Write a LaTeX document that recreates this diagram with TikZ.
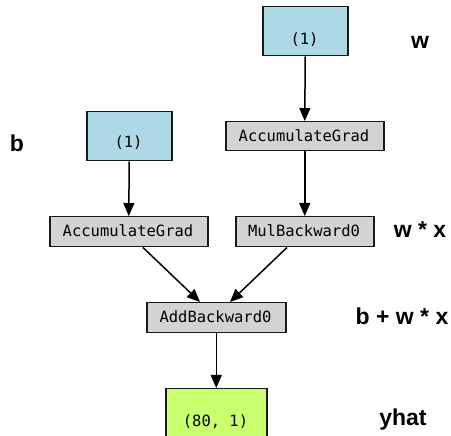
\documentclass[tikz,border=0pt]{standalone}
\usepackage{fontspec}
\setmainfont{Liberation Sans}
\newfontfamily\monofont{DejaVu Sans Mono}
\usetikzlibrary{arrows.meta}
\definecolor{leafblue}{RGB}{173,216,230}
\definecolor{opgray}{RGB}{211,211,211}
\definecolor{outgreen}{RGB}{202,255,112}
\tikzset{
  box/.style={draw=black!90, line width=1.5pt, inner sep=0pt, anchor=north west},
  optext/.style={font=\monofont\fontsize{15.5}{16}\selectfont, inner sep=0pt},
  lab/.style={font=\bfseries\fontsize{23}{24}\selectfont, inner sep=0pt},
  edge/.style={line width=1.5pt, -{Triangle[length=13pt,width=11pt]}}
}
\begin{document}
\begin{tikzpicture}[x=1pt,y=-1pt]
\useasboundingbox (0,0) rectangle (451,436);
% boxes
\node[box, fill=leafblue, minimum width=85pt, minimum height=49pt] (w) at (262,6) {};
\node[optext] at (304.5,40) {(1)};
\node[box, fill=opgray, minimum width=158pt, minimum height=29pt] (accw) at (225,121) {};
\node[optext] at (304,135.5) {AccumulateGrad};
\node[box, fill=leafblue, minimum width=85pt, minimum height=49pt] (b) at (86,111) {};
\node[optext] at (128.5,143) {(1)};
\node[box, fill=opgray, minimum width=158pt, minimum height=30pt] (accb) at (49,216) {};
\node[optext] at (128,231) {AccumulateGrad};
\node[box, fill=opgray, minimum width=138pt, minimum height=30pt] (mul) at (235,216) {};
\node[optext] at (304,231) {MulBackward0};
\node[box, fill=opgray, minimum width=139pt, minimum height=30pt] (add) at (146,302) {};
\node[optext] at (215.5,317) {AddBackward0};
\node[box, fill=outgreen, minimum width=101pt, minimum height=60pt] (yhat) at (165,388) {};
\node[optext] at (215.5,422) {(80, 1)};
% labels
\node[lab] (lw) at (420,42) {w};
\node[lab] (lb) at (17,143) {b};
\node[lab] (lwx) at (420,230) {w * x};
\node[lab] (lbwx) at (402,316) {b + w * x};
\node[lab] (ly) at (403,420) {yhat};
% edges
\draw[edge] (w.south) -- (accw.north);
\draw[edge] (accw.south) -- (mul.north);
\draw[edge] (b.south) -- (accb.north);
\draw[edge] (accb.south west) ++(94,0) coordinate (s1) -- (200,302) coordinate (t1);
\draw[edge] (mul.south west) ++(52,0) coordinate (s2) -- (230,302) coordinate (t2);
\draw[edge] (add.south) -- (yhat.north);
\end{tikzpicture}
\end{document}
